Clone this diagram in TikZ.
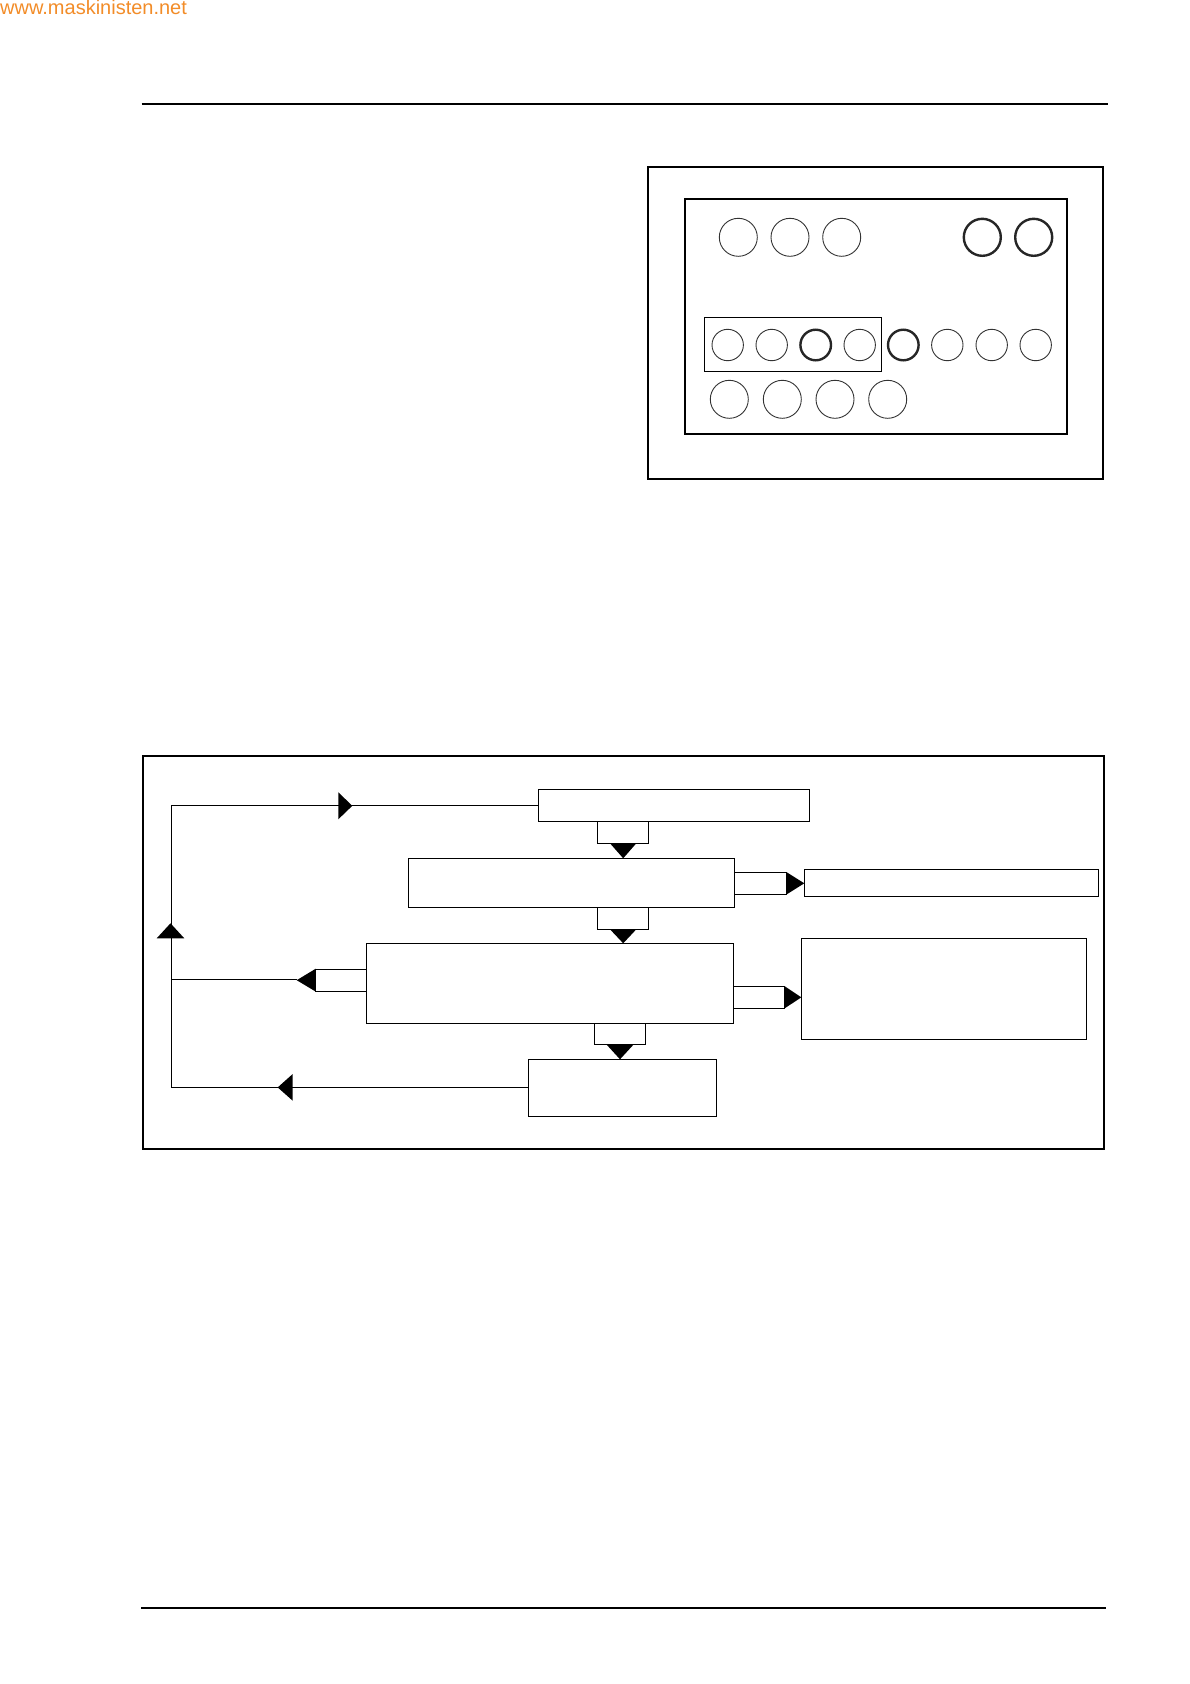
\documentclass[tikz,border=0pt]{standalone}
\usepackage{fontspec}
\setmainfont{Liberation Sans}
\definecolor{wmorange}{RGB}{242,140,40}
\begin{document}
\begin{tikzpicture}[x=1pt,y=-1pt,
  box/.style={draw,line width=1pt,rectangle,inner sep=0pt,outer sep=0pt,anchor=north west},
  thin/.style={line width=1pt},
  head/.style={fill=black,draw=none},
  ring/.style={draw=black!80,line width=0.9pt},
  boldring/.style={draw=black!85,line width=2.4pt}]
\useasboundingbox (0,0) rectangle (1190,1684);
% watermark
\node[anchor=base west,inner sep=0pt,text=wmorange,font=\fontsize{20}{21}\selectfont] (wm) at (0,14) {www.maskinisten.net};
% rules
\draw[line width=2pt] (141.7,104) -- (1107.7,104);
\draw[line width=2pt] (141,1607.7) -- (1106,1607.7);

% ---------- panel picture ----------
\draw[line width=2pt] (648.3,166.7) rectangle (1103.3,479);
\draw[line width=2pt] (685,199) rectangle (1067,433.7);
\foreach \cx in {738.3,790,841.7} \draw[ring] (\cx,237.3) circle (19);
\foreach \cx in {982.3,1033.7} \draw[boldring] (\cx,237.3) circle (18.5);
\draw[line width=1pt] (704.3,317.3) rectangle (881.3,371.3);
\foreach \cx in {727.7,771.7,859.7,947.3,991.7,1035.7} \draw[ring] (\cx,345) circle (15.7);
\foreach \cx in {815.7,903.3} \draw[boldring] (\cx,345) circle (15.3);
\foreach \cx in {729.3,782.3,835,887.7} \draw[ring] (\cx,399.3) circle (19);

% ---------- flow chart ----------
\draw[line width=2pt] (142.7,756) rectangle (1104.3,1149.3);
\node[box,minimum width=271pt,minimum height=32pt] (top) at (538.3,789.3) {};
\node[box,minimum width=326pt,minimum height=49pt] (b2) at (408.3,858.3) {};
\node[box,minimum width=366.6pt,minimum height=80pt] (b3) at (366.7,943.3) {};
\node[box,minimum width=188pt,minimum height=56.7pt] (b4) at (528.3,1059.3) {};
\node[box,minimum width=294pt,minimum height=27pt] (bA) at (804.3,869.3) {};
\node[box,minimum width=285.4pt,minimum height=101pt] (bB) at (801.3,938.3) {};
\coordinate (lt) at (171.7,0 |- top.west);
\coordinate (lm) at (171.7,979.6);
\coordinate (lb) at (171.7,0 |- b4.west);

% fat arrow top -> b2
\draw[thin] (597.3,0 |- top.south) rectangle (648.3,843.3);
\fill[head] (610,843.3) -- (636.3,843.3) -- (623.2,0 |- b2.north) -- cycle;
% fat arrow b2 -> b3
\draw[thin] (597.3,0 |- b2.south) rectangle (648.3,929.3);
\fill[head] (610,929.3) -- (636.3,929.3) -- (623.2,0 |- b3.north) -- cycle;
% fat arrow b3 -> b4
\draw[thin] (594.3,0 |- b3.south) rectangle (645.5,1044.3);
\fill[head] (606.3,1044.3) -- (633.8,1044.3) -- (620,0 |- b4.north) -- cycle;
% fat arrow b2 -> A
\draw[thin] (b2.east |- 0,872.3) rectangle (786.3,894.3);
\fill[head] (786.3,872) -- (786.3,894.6) -- (bA.west |- 0,883.3) -- cycle;
% fat arrow b3 -> B
\draw[thin] (b3.east |- 0,986.3) rectangle (784.3,1008.3);
\fill[head] (784.3,986) -- (784.3,1008.6) -- (bB.west |- 0,997.3) -- cycle;
% fat arrow b3 -> left loop
\draw[thin] (b3.west |- 0,969) rectangle (315.7,991.3);
\fill[head] (315.7,968.7) -- (315.7,991.6) -- (296.7,980.2) -- cycle;
\draw[thin] (296.7,979.6) -- (lm);

% loop lines
\draw[thin] (lb) -- (lt);
\draw[thin] (lt) -- (top.west);
\draw[thin] (b4.west) -- (lb);
% arrowheads on loop
\fill[head] (338.3,792.3) -- (338.3,819.3) -- (352.3,805.8) -- cycle;
\fill[head] (292.7,1074) -- (292.7,1100.7) -- (277.7,1087.4) -- cycle;
\fill[head] (156.7,938.3) -- (184.3,938.3) -- (170.5,923.3) -- cycle;
\end{tikzpicture}
\end{document}
